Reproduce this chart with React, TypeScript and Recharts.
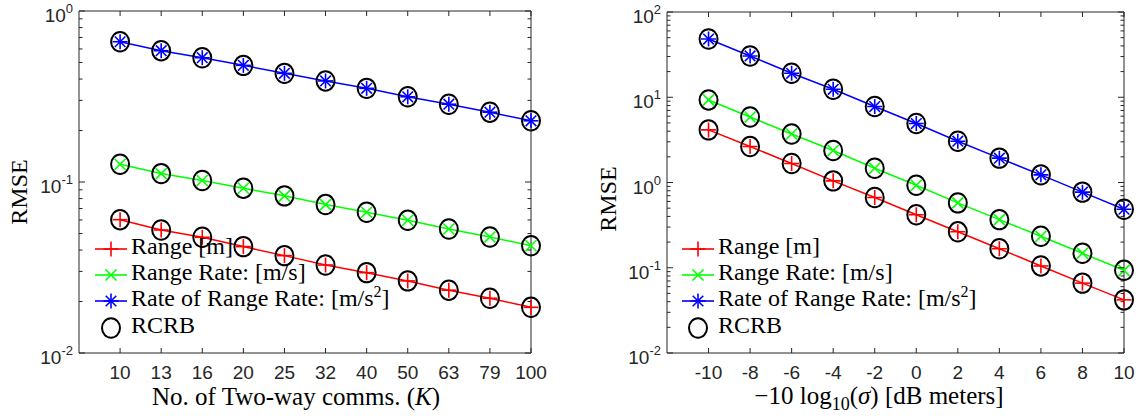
import React from "react"
import { LineChart, Line, XAxis, YAxis, ReferenceArea, Legend } from "recharts"

// left panel: RMSE vs number of two-way comms K
const kLabels = ["10", "13", "16", "20", "25", "32", "40", "50", "63", "79", "100"]
const rangeK = [0.0602, 0.0524, 0.0475, 0.0419, 0.0371, 0.0327, 0.0295, 0.0264, 0.0233, 0.0209, 0.0185]
const rateK = [0.127, 0.112, 0.102, 0.092, 0.083, 0.0738, 0.0665, 0.0597, 0.0531, 0.0477, 0.0424]
const rrateK = [0.661, 0.586, 0.533, 0.481, 0.432, 0.39, 0.353, 0.315, 0.285, 0.256, 0.228]
const crbRangeK = [0.0602, 0.0524, 0.0475, 0.0419, 0.0371, 0.0327, 0.0295, 0.0264, 0.0233, 0.0209, 0.0185]
const crbRateK = [0.127, 0.112, 0.102, 0.092, 0.083, 0.0738, 0.0665, 0.0597, 0.0531, 0.0477, 0.0424]
const crbRrateK = [0.661, 0.586, 0.533, 0.481, 0.432, 0.39, 0.353, 0.315, 0.285, 0.256, 0.228]

// right panel: RMSE vs -10log10(sigma)
const sigmaDb = [-10, -8, -6, -4, -2, 0, 2, 4, 6, 8, 10]
const rangeS = [4.14, 2.64, 1.67, 1.045, 0.667, 0.418, 0.264, 0.167, 0.105, 0.066, 0.042]
const rateS = [9.3, 5.87, 3.71, 2.37, 1.47, 0.929, 0.576, 0.367, 0.234, 0.148, 0.0933]
const rrateS = [48.2, 30.5, 19.1, 12.4, 7.78, 4.92, 3.05, 1.93, 1.23, 0.771, 0.486]
const crbRangeS = [4.14, 2.64, 1.67, 1.045, 0.667, 0.418, 0.264, 0.167, 0.105, 0.066, 0.042]
const crbRateS = [9.3, 5.87, 3.71, 2.37, 1.47, 0.929, 0.576, 0.367, 0.234, 0.148, 0.0933]
const crbRrateS = [48.2, 30.5, 19.1, 12.4, 7.78, 4.92, 3.05, 1.93, 1.23, 0.771, 0.486]

const RED = "#ff0000"
const GREEN = "#00ff00"
const BLUE = "#0000ff"
const AXIS = "#262626"
const SANS = '"Liberation Sans", Arial, sans-serif'
const SERIF = '"Liberation Serif", "Times New Roman", serif'

const leftData = kLabels.map((_, i) => ({
  i,
  range: rangeK[i],
  rate: rateK[i],
  rrate: rrateK[i],
  crbRange: crbRangeK[i],
  crbRate: crbRateK[i],
  crbRrate: crbRrateK[i],
}))

const rightData = sigmaDb.map((s, i) => ({
  s,
  range: rangeS[i],
  rate: rateS[i],
  rrate: rrateS[i],
  crbRange: crbRangeS[i],
  crbRate: crbRateS[i],
  crbRrate: crbRrateS[i],
}))

// major + minor log ticks
function logTicks(lo: number, hi: number) {
  const out: number[] = []
  for (let e = lo; e < hi; e++) {
    for (let m = 1; m < 10; m++) out.push(m * Math.pow(10, e))
  }
  out.push(Math.pow(10, hi))
  return out
}

function markerShape(kind: string, cx: number, cy: number, color: string) {
  if (kind === "plus") {
    return (
      <>
        <line x1={cx - 7.5} x2={cx + 7.5} y1={cy} y2={cy} stroke={color} strokeWidth={1.6} />
        <line x1={cx} x2={cx} y1={cy - 7.5} y2={cy + 7.5} stroke={color} strokeWidth={1.6} />
      </>
    )
  }
  if (kind === "cross") {
    return (
      <>
        <line x1={cx - 5.5} x2={cx + 5.5} y1={cy - 5.5} y2={cy + 5.5} stroke={color} strokeWidth={1.6} />
        <line x1={cx - 5.5} x2={cx + 5.5} y1={cy + 5.5} y2={cy - 5.5} stroke={color} strokeWidth={1.6} />
      </>
    )
  }
  if (kind === "star") {
    return (
      <>
        <line x1={cx - 7.5} x2={cx + 7.5} y1={cy} y2={cy} stroke={color} strokeWidth={1.6} />
        <line x1={cx} x2={cx} y1={cy - 7.5} y2={cy + 7.5} stroke={color} strokeWidth={1.6} />
        <line x1={cx - 5.3} x2={cx + 5.3} y1={cy - 5.3} y2={cy + 5.3} stroke={color} strokeWidth={1.6} />
        <line x1={cx - 5.3} x2={cx + 5.3} y1={cy + 5.3} y2={cy - 5.3} stroke={color} strokeWidth={1.6} />
      </>
    )
  }
  return <ellipse cx={cx} cy={cy} rx={9} ry={9.7} fill="none" stroke="#000" strokeWidth={2} />
}

const dot = (kind: string, color: string) => (props: any) => {
  const { cx, cy, index } = props
  if (cx == null || cy == null) return <g key={`${kind}-${index}`} />
  return <g key={`${kind}-${index}`}>{markerShape(kind, cx, cy, color)}</g>
}

const makeYTick = (left: number, right: number) => (props: any) => {
  const { y, payload } = props
  const lg = Math.log10(payload.value)
  const major = Math.abs(lg - Math.round(lg)) < 1e-6
  const len = major ? 6 : 3.5
  return (
    <g>
      <line x1={left} x2={left + len} y1={y} y2={y} stroke={AXIS} />
      <line x1={right - len} x2={right} y1={y} y2={y} stroke={AXIS} />
      {major && (
        <text x={left - 6} y={y + 11} textAnchor="end" fontFamily={SANS} fontSize={19} fill={AXIS}>
          10
          <tspan dy={-9} fontSize={13}>
            {Math.round(lg)}
          </tspan>
        </text>
      )}
    </g>
  )
}

const makeXTick = (top: number, bottom: number, fmt: (v: number) => string) => (props: any) => {
  const { x, payload } = props
  return (
    <g>
      <line x1={x} x2={x} y1={bottom} y2={bottom - 5} stroke={AXIS} />
      <line x1={x} x2={x} y1={top} y2={top + 5} stroke={AXIS} />
      <text x={x} y={379} textAnchor="middle" fontFamily={SANS} fontSize={19} fill={AXIS}>
        {fmt(payload.value)}
      </text>
    </g>
  )
}

function RmseTitle({ px, py }: { px: number; py: number }) {
  return (
    <text x={px} y={py} transform={`rotate(-90 ${px} ${py})`} textAnchor="middle" fontFamily={SERIF} fontSize={24} fill="#000">
      RMSE
    </text>
  )
}

function KTitle() {
  return (
    <text x={296} y={405} textAnchor="middle" fontFamily={SERIF} fontSize={25} fill="#000">
      No. of Two-way comms. (<tspan fontStyle="italic">K</tspan>)
    </text>
  )
}

function SigmaTitle() {
  return (
    <text x={319} y={404} textAnchor="middle" fontFamily={SERIF} fontSize={25} fill="#000">
      −10 log
      <tspan dy={6} fontSize={18}>10</tspan>
      <tspan dy={-6}>(</tspan>
      <tspan fontStyle="italic">σ</tspan>) [dB  meters]
    </text>
  )
}

const legendRows = [
  { kind: "plus", color: RED, line: true, label: <>Range [m]</> },
  { kind: "cross", color: GREEN, line: true, label: <>Range Rate: [m/s]</> },
  {
    kind: "star",
    color: BLUE,
    line: true,
    label: (
      <>
        Rate of Range Rate: [m/s<tspan dy={-9} fontSize={16}>2</tspan>
        <tspan dy={9}>]</tspan>
      </>
    ),
  },
  { kind: "circle", color: "#000", line: false, label: <>RCRB</> },
]
const legendRowY = [19, 45, 71, 98]

function LegendBox() {
  return (
    <svg width={330} height={110} style={{ overflow: "visible" }}>
      {legendRows.map((r, i) => {
        const ry = legendRowY[i]
        return (
          <g key={i}>
            {r.line && <line x1={5} x2={37} y1={ry} y2={ry} stroke={r.color} strokeWidth={1.6} />}
            {markerShape(r.kind, 21, ry, r.color)}
            <text x={41} y={ry + 5} fontFamily={SERIF} fontSize={24} fill="#000">
              {r.label}
            </text>
          </g>
        )
      })}
    </svg>
  )
}

function Series() {
  return [
    <Line key="range" type="linear" dataKey="range" stroke={RED} strokeWidth={1.5} dot={dot("plus", RED)} isAnimationActive={false} />,
    <Line key="rate" type="linear" dataKey="rate" stroke={GREEN} strokeWidth={1.5} dot={dot("cross", GREEN)} isAnimationActive={false} />,
    <Line key="rrate" type="linear" dataKey="rrate" stroke={BLUE} strokeWidth={1.5} dot={dot("star", BLUE)} isAnimationActive={false} />,
    <Line key="c1" type="linear" dataKey="crbRange" stroke="none" dot={dot("circle", "#000")} isAnimationActive={false} />,
    <Line key="c2" type="linear" dataKey="crbRate" stroke="none" dot={dot("circle", "#000")} isAnimationActive={false} />,
    <Line key="c3" type="linear" dataKey="crbRrate" stroke="none" dot={dot("circle", "#000")} isAnimationActive={false} />,
  ]
}

export default function App() {
  const leftTicks = logTicks(-2, 0)
  const rightTicks = logTicks(-2, 2)
  return (
    <div style={{ position: "absolute", left: 0, top: 0, width: 1140, height: 418, background: "#fff" }}>
      <div style={{ position: "absolute", left: 0, top: 0 }}>
        <LineChart width={560} height={418} data={leftData} margin={{ top: 11, right: 29, left: 0, bottom: 0 }}>
          <XAxis
            dataKey="i"
            type="number"
            domain={[-1, 10]}
            ticks={[0, 1, 2, 3, 4, 5, 6, 7, 8, 9, 10]}
            interval={0}
            height={65}
            axisLine={false}
            tickLine={false}
            tick={makeXTick(11, 353, (v) => kLabels[v])}
            label={<KTitle />}
          />
          <YAxis
            type="number"
            scale="log"
            domain={[0.01, 1]}
            allowDataOverflow
            ticks={leftTicks}
            interval={0}
            width={79}
            axisLine={false}
            tickLine={false}
            tick={makeYTick(79, 531)}
            label={<RmseTitle px={27} py={192} />}
          />
          <ReferenceArea x1={-1} x2={10} y1={0.01} y2={1} fill="none" stroke={AXIS} strokeWidth={1} />
          {Series()}
          <Legend
            layout="horizontal"
            verticalAlign="middle"
            align="center"
            wrapperStyle={{ left: 90, top: 230, width: 330, height: 110 }}
            content={() => <LegendBox />}
          />
        </LineChart>
      </div>
      <div style={{ position: "absolute", left: 560, top: 0 }}>
        <LineChart width={580} height={418} data={rightData} margin={{ top: 12, right: 16, left: 0, bottom: 0 }}>
          <XAxis
            dataKey="s"
            type="number"
            domain={[-12, 10]}
            ticks={sigmaDb}
            interval={0}
            height={65}
            axisLine={false}
            tickLine={false}
            tick={makeXTick(12, 353, (v) => String(v))}
            label={<SigmaTitle />}
          />
          <YAxis
            type="number"
            scale="log"
            domain={[0.01, 100]}
            allowDataOverflow
            ticks={rightTicks}
            interval={0}
            width={107}
            axisLine={false}
            tickLine={false}
            tick={makeYTick(107, 564)}
            label={<RmseTitle px={56} py={199} />}
          />
          <ReferenceArea x1={-12} x2={10} y1={0.01} y2={100} fill="none" stroke={AXIS} strokeWidth={1} />
          {Series()}
          <Legend
            layout="horizontal"
            verticalAlign="middle"
            align="center"
            wrapperStyle={{ left: 117, top: 230, width: 330, height: 110 }}
            content={() => <LegendBox />}
          />
        </LineChart>
      </div>
    </div>
  )
}
